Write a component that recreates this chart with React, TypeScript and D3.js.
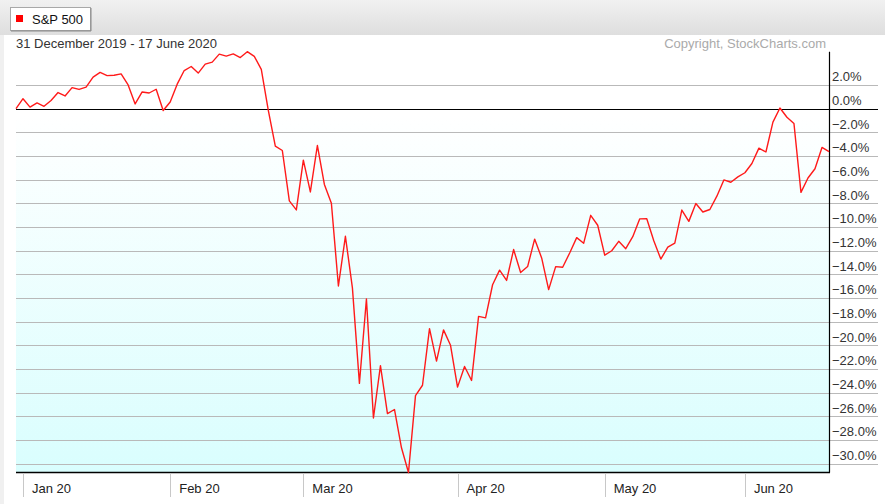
import React from "react";
import * as d3 from "d3";

// Trading days by month (label, day numbers)
const months: [string, number[]][] = [
  ["Dec 19", [31]],
  ["Jan 20", [2, 3, 6, 7, 8, 9, 10, 13, 14, 15, 16, 17, 21, 22, 23, 24, 27, 28, 29, 30, 31]],
  ["Feb 20", [3, 4, 5, 6, 7, 10, 11, 12, 13, 14, 18, 19, 20, 21, 24, 25, 26, 27, 28]],
  ["Mar 20", [2, 3, 4, 5, 6, 9, 10, 11, 12, 13, 16, 17, 18, 19, 20, 23, 24, 25, 26, 27, 30, 31]],
  ["Apr 20", [1, 2, 3, 6, 7, 8, 9, 13, 14, 15, 16, 17, 20, 21, 22, 23, 24, 27, 28, 29, 30]],
  ["May 20", [1, 4, 5, 6, 7, 8, 11, 12, 13, 14, 15, 18, 19, 20, 21, 22, 26, 27, 28, 29]],
  ["Jun 20", [1, 2, 3, 4, 5, 8, 9, 10, 11, 12, 15, 16, 17]],
];

// S&P 500 closes
const closes: number[] = [
  3230.78,
  3257.85, 3234.85, 3246.28, 3237.18, 3253.05, 3274.7, 3265.35, 3288.13, 3283.15, 3289.29, 3316.81,
  3329.62, 3320.79, 3321.75, 3325.54, 3295.47, 3243.63, 3276.24, 3273.4, 3283.66, 3225.52,
  3248.92, 3297.59, 3334.69, 3345.78, 3327.71, 3352.09, 3357.75, 3379.45, 3373.94, 3380.16,
  3370.29, 3386.15, 3373.23, 3337.75, 3225.89, 3128.21, 3116.39, 2978.76, 2954.22,
  3090.23, 3003.37, 3130.12, 3023.94, 2972.37, 2746.56, 2882.23, 2741.38, 2480.64, 2711.02,
  2386.13, 2529.19, 2398.1, 2409.39, 2304.92, 2237.4, 2447.33, 2475.56, 2630.07, 2541.47,
  2626.65, 2584.59,
  2470.5, 2526.9, 2488.65, 2663.68, 2659.41, 2749.98, 2789.82, 2761.63, 2846.06, 2783.36,
  2799.55, 2874.56, 2823.16, 2736.56, 2799.31, 2797.8, 2836.74, 2878.48, 2863.39, 2939.51, 2912.43,
  2830.71, 2842.74, 2868.44, 2848.42, 2881.19, 2929.8, 2930.32, 2870.12, 2820.0, 2852.5,
  2863.7, 2953.91, 2922.94, 2971.61, 2948.51, 2955.45, 2991.77, 3036.13, 3029.73, 3044.31,
  3055.73, 3080.82, 3122.87, 3112.35, 3193.93, 3232.39, 3207.18, 3190.14, 3002.1, 3041.31,
  3066.59, 3124.74, 3113.49,
];

const yTickValues = [2, 0, -2, -4, -6, -8, -10, -12, -14, -16, -18, -20, -22, -24, -26, -28, -30];

const seriesName = "S&P 500";
const titleText = "31 December 2019 - 17 June 2020";
const copyrightText = "Copyright, StockCharts.com";

const FONT = "'Liberation Sans', Arial, Helvetica, sans-serif";

export default function App() {
  const W = 886;
  const H = 504;
  const left = 16;
  const right = 829;
  const top = 51.7;
  const bottom = 472.5;

  const base = closes[0];
  const pct = closes.map((c) => (c / base - 1) * 100);

  // month tick indices (first trading day of each month, excluding Dec)
  const ticks: { label: string; index: number }[] = [];
  let idx = 0;
  months.forEach(([label, days], mi) => {
    if (mi > 0) ticks.push({ label, index: idx });
    idx += days.length;
  });

  const x = d3.scaleLinear().domain([0, pct.length - 1]).range([left, right]);
  const y = d3
    .scaleLinear()
    .domain([d3.min(pct) as number, d3.max(pct) as number])
    .range([bottom, top]);

  const line = d3
    .line<number>()
    .x((_, i) => x(i))
    .y((d) => y(d));

  const fmt = (v: number) => d3.format(".1f")(v) + "%";

  return (
    <svg
      width={W}
      height={H}
      style={{ position: "absolute", left: 0, top: 0, background: "#fff" }}
      fontFamily={FONT}
    >
      <defs>
        <linearGradient id="hdr" x1="0" y1="0" x2="0" y2="1">
          <stop offset="0" stopColor="#f1f1f1" />
          <stop offset="1" stopColor="#dedede" />
        </linearGradient>
        <linearGradient id="plotbg" x1="0" y1="0" x2="0" y2="1">
          <stop offset="0" stopColor="#ffffff" />
          <stop offset="0.15" stopColor="#ffffff" />
          <stop offset="1" stopColor="#d9fefe" />
        </linearGradient>
      </defs>
      <rect x={0} y={0} width={W} height={H} fill="#ffffff" />
      {/* header */}
      <rect x={0} y={0} width={885} height={35} fill="url(#hdr)" />
      <rect x={0} y={35} width={4} height={H - 35} fill="#f0f0f0" />
      {/* legend box */}
      <rect x={10.5} y={7.5} width={80} height={23} fill="#ffffff" stroke="#a8a8a8" />
      <line x1={11} y1={31} x2={91} y2={31} stroke="#888" />
      <line x1={91} y1={8} x2={91} y2={31} stroke="#888" />
      <rect x={16} y={15} width={7} height={7} fill="#ff0000" />
      <text x={32} y={23.5} fontSize={13} fill="#111">
        {seriesName}
      </text>

      {/* title row */}
      <text x={16} y={48} fontSize={13} fill="#333">
        {titleText}
      </text>
      <text x={826} y={48} fontSize={13} fill="#aaaaaa" textAnchor="end">
        {copyrightText}
      </text>

      {/* plot background */}
      <rect x={left} y={top} width={right - left} height={bottom - top} fill="url(#plotbg)" />

      {/* gridlines and labels */}
      {yTickValues.map((v) => (
        <g key={v}>
          <line
            x1={left}
            x2={878}
            y1={Math.round(y(v)) + 0.5}
            y2={Math.round(y(v)) + 0.5}
            stroke={v === 0 ? "#000" : "#b9b9b9"}
            strokeWidth={v === 0 ? 1.2 : 1}
          />
          <text x={832} y={y(v) - 3.5} fontSize={13} fill="#333">
            {fmt(v)}
          </text>
        </g>
      ))}

      {/* borders */}
      <line x1={right + 0.5} x2={right + 0.5} y1={top} y2={bottom} stroke="#000" strokeWidth={1.2} />
      <line x1={left} x2={right + 1} y1={bottom} y2={bottom} stroke="#000" strokeWidth={1.5} />

      {/* x ticks */}
      {ticks.map((t) => (
        <g key={t.label}>
          <line
            x1={Math.round(x(t.index)) + 0.5}
            x2={Math.round(x(t.index)) + 0.5}
            y1={bottom + 1}
            y2={497}
            stroke="#c8c8c8"
          />
          <text x={x(t.index) + 9} y={493} fontSize={13} fill="#222">
            {t.label}
          </text>
        </g>
      ))}

      {/* series line */}
      <path d={line(pct) || ""} fill="none" stroke="#ff1a1a" strokeWidth={1.4} strokeLinejoin="round" />
    </svg>
  );
}
